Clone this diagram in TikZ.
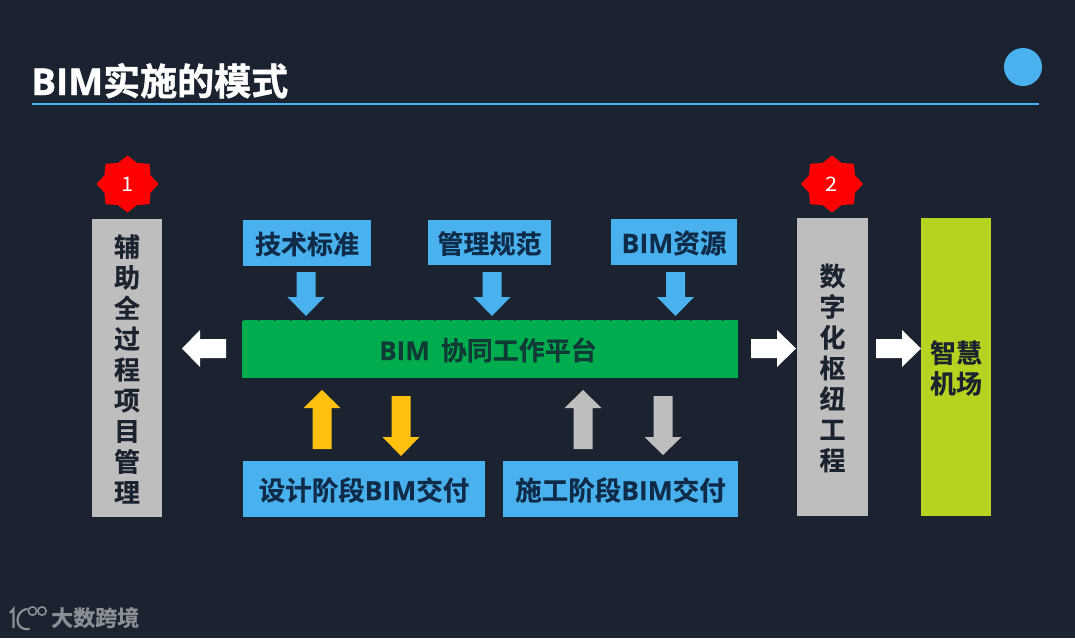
\documentclass[tikz,border=0pt]{standalone}
\usepackage{fontspec}
\setmainfont{Noto Sans CJK SC}[BoldFont={Noto Sans CJK SC Bold},BoldFeatures={FakeBold=0.5}]
\newfontfamily\latinf{Open Sans}[BoldFont={Open Sans Bold},BoldFeatures={FakeBold=0.3}]
\newfontfamily\titlef{Noto Sans CJK SC Bold}[FakeBold=1.2]
\newfontfamily\titlelat{Open Sans Bold}[FakeBold=1.0]
\newcommand\BIMword{{\latinf\bfseries BIM}}
\usetikzlibrary{shapes.geometric}
\definecolor{bgc}{HTML}{1B2330}
\definecolor{bluec}{HTML}{48B1EE}
\definecolor{grayc}{HTML}{BEBEBE}
\definecolor{greenc}{HTML}{00AD4E}
\definecolor{limec}{HTML}{B5D31F}
\definecolor{yellowc}{HTML}{FFC00F}
\definecolor{wmc}{HTML}{8A8F95}
\definecolor{navyc}{HTML}{0F2B48}
\definecolor{deepgreen}{HTML}{0F3A35}
\tikzset{
  panel/.style={inner sep=0pt,outer sep=0pt,text=bgc,align=center,font=\bfseries\fontsize{26}{30.7}\selectfont},
  badge/.style={star,star points=8,star point ratio=1.25,fill=red,inner sep=0pt,minimum size=57pt,xscale=1.09,transform shape,text=white,font=\fontsize{20}{24}\selectfont},
}
% vertical block arrow: colour, centre x, tail y, head base y, tip y
\newcommand\vArrow[5]{\fill[#1] (#2-9.5,#3) -- (#2+9.5,#3) -- (#2+9.5,#4) -- (#2+18.5,#4) -- (#2,#5) -- (#2-18.5,#4) -- (#2-9.5,#4) -- cycle;}
% horizontal block arrow: centre y, tail x, head base x, tip x
\newcommand\hArrow[4]{\fill[white] (#2,#1-9.5) -- (#2,#1+9.5) -- (#3,#1+9.5) -- (#3,#1+18.5) -- (#4,#1) -- (#3,#1-18.5) -- (#3,#1-9.5) -- cycle;}
\newcommand\panelbox[7]{%
  \node[panel,fill=#6,minimum width=#4 pt-#2 pt,minimum height=#5 pt-#3 pt] (#1) at ({(#2+#4)/2},{(#3+#5)/2}) {};
  \node[panel,yshift=-1pt] (#1text) at (#1.center) {#7};}
\begin{document}
\begin{tikzpicture}[x=1pt,y=-1pt]
\fill[bgc] (0,0) rectangle (1075,638);
\useasboundingbox (0,0) rectangle (1075,638);
% title
\node[anchor=base west,inner sep=0pt,text=white,font=\fontsize{37}{40}\selectfont] (title) at (31,95) {{\titlelat BIM}{\titlef 实施的模式}};
\coordinate (ruleL) at (32,104);
\coordinate (ruleR) at (1039,104);
\draw[bluec,line width=2.5pt] (ruleL) -- (ruleR);
\node[circle,fill=bluec,minimum size=38pt,inner sep=0pt] (dot) at (1023,67) {};
% badges
\node[badge] (b1) at (127.5,184) {1};
\node[badge] (b2) at (832,184) {2};
% side panels
\panelbox{left}{92}{219}{162}{517}{grayc}{辅\\助\\全\\过\\程\\项\\目\\管\\理}
\panelbox{hub}{797}{218}{868}{516}{grayc}{数\\字\\化\\枢\\纽\\工\\程}
\panelbox{airport}{921}{218}{991}{516}{limec}{智慧\\机场}
% top boxes
\panelbox{tech}{243}{220}{371}{266}{bluec}{\color{navyc}技术标准}
\panelbox{mgmt}{428}{220}{551}{265}{bluec}{\color{navyc}管理规范}
\panelbox{res}{611}{219}{737}{265}{bluec}{\color{navyc}\fontsize{26.6}{30}\selectfont\BIMword 资源}
% platform
\panelbox{plat}{242}{320}{738}{378}{greenc}{\raisebox{1pt}{\color{deepgreen}\fontsize{26}{30}\selectfont\BIMword\hspace{11pt}协同工作平台}\hspace{4pt}}
\draw[bgc!70!greenc,line width=0.7pt,dash pattern=on 1.5pt off 14.5pt] (plat.north west) -- (plat.north east);
% bottom boxes
\panelbox{design}{243}{461}{485}{517}{bluec}{\color{navyc}\fontsize{26.5}{30}\selectfont 设计阶段\BIMword 交付}
\panelbox{build}{503}{461}{738}{517}{bluec}{\color{navyc}\fontsize{26.5}{30}\selectfont 施工阶段\BIMword 交付}
% arrows
\vArrow{bluec}{306}{272}{297}{316}
\vArrow{bluec}{492}{272}{297}{316}
\vArrow{bluec}{675.5}{272}{297}{316}
\vArrow{yellowc}{322}{449}{408}{390}
\vArrow{yellowc}{401}{396}{437}{456}
\vArrow{grayc}{583}{449}{408}{390}
\vArrow{grayc}{663}{396}{437}{455}
\hArrow{348.5}{226}{200}{182}
\hArrow{348.5}{751}{777}{796}
\hArrow{348.5}{876}{902}{921}
% watermark
\node[anchor=base west,inner sep=0pt,text=wmc,font=\bfseries\fontsize{22}{26}\selectfont] (wm) at (51,626) {大数跨境};
\draw[wmc,line width=2.2pt] (10,613) -- (13.5,609) -- (13.5,628);
\draw[wmc,line width=2.2pt,line cap=round] (27,609) .. controls (20,610) and (17.5,616) .. (17.5,620) .. controls (17.5,626) and (22,630) .. (29,629);
\draw[wmc,line width=1.6pt] (32.5,611) circle[radius=4.2pt];
\draw[wmc,line width=1.6pt] (42,611) circle[radius=4.2pt];
\end{tikzpicture}
\end{document}
